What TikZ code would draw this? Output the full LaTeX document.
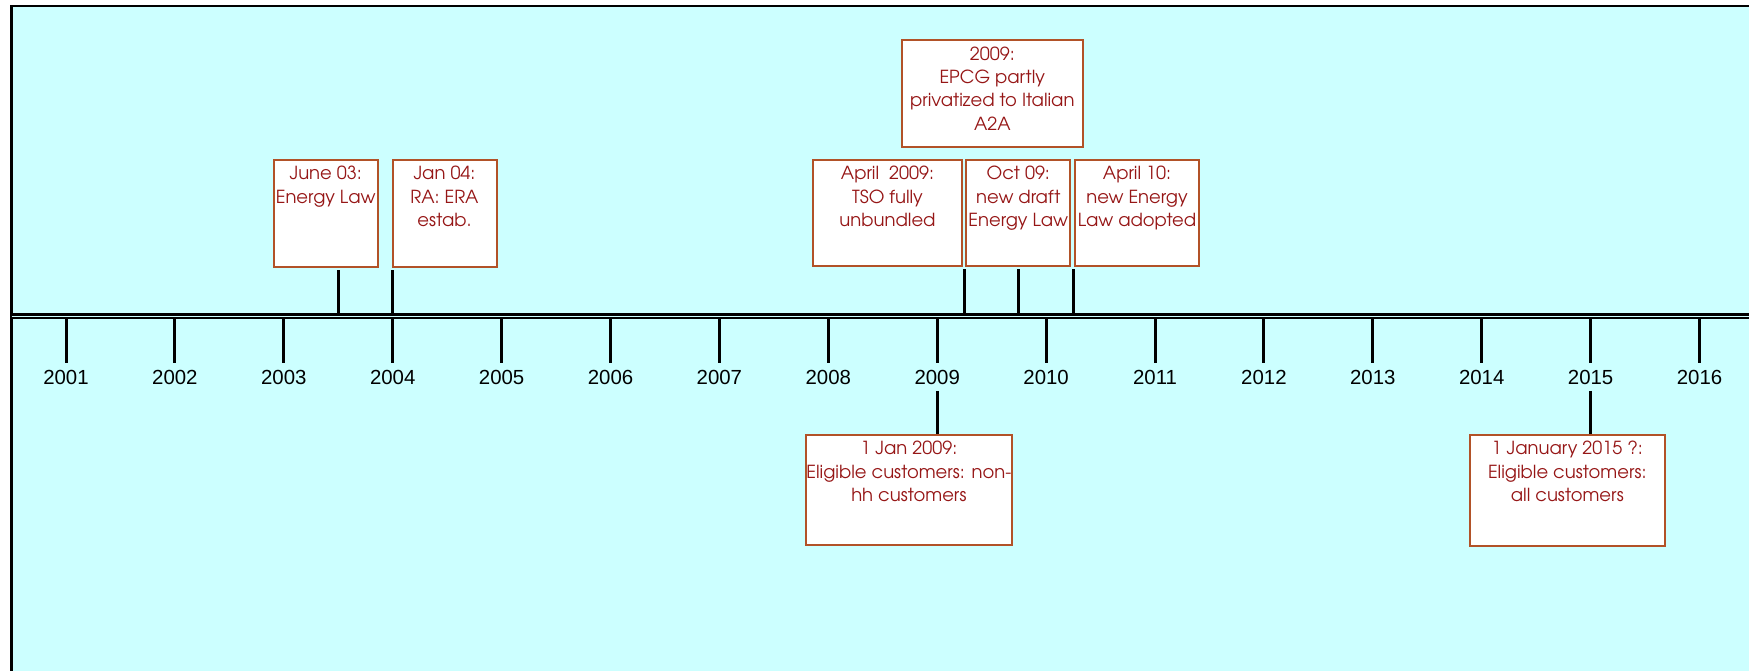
\documentclass[tikz,border=0pt]{standalone}
\usepackage{fontspec}
\setsansfont{Liberation Sans}
\newfontfamily\adventor{texgyreadventor-regular.otf}
\usepackage{tikz}
\definecolor{cyanbg}{RGB}{204,255,255}
\definecolor{evborder}{RGB}{178,82,40}
\definecolor{evtext}{RGB}{150,22,22}
\newcommand{\evfont}{\adventor\fontsize{9}{11.65}\selectfont}
\newcommand{\evtxt}[3]{\parbox[c][#2][t]{#1}{\centering\vspace*{3.2pt}#3\par}}
\newcommand{\yrx}[1]{{828.3+(#1-2008)*108.9}}

\begin{document}
\begin{tikzpicture}[x=0.5pt, y=-0.5pt]
      \tikzset{event/.style={draw=evborder, line width=1pt, fill=white,
        inner sep=0pt, text=evtext, font=\evfont}}
      \tikzset{year/.style={inner sep=0pt,
        font=\sffamily\fontsize{10.2}{12}\selectfont}}
      \tikzset{tick/.style={line width=1.5pt}}

      \useasboundingbox (0,0) rectangle (1749,670);
      \clip (0,0) rectangle (1749,670);
      \fill[cyanbg] (11.5,6) rectangle (1770,690);
      \draw[line width=1.4pt] (11.5,690) -- (11.5,6) -- (1770,6);

      \coordinate (axl) at (11.5,316);
      \coordinate (axr) at (1770,316);
      \draw[line width=1.35pt, double=cyanbg, double distance=0.5pt] (axl) -- (axr);

      \foreach \y in {2001,...,2016}{
        \coordinate (a\y) at (\yrx{\y},319);
        \coordinate (b\y) at (\yrx{\y},363);
        \node[year] (yr\y) at (\yrx{\y},377.7) {\y};
        \draw[tick] (a\y) -- (b\y);
      }

      \node[event] (jun03) at (325.7,213.5) {\evtxt{52.2pt}{53.5pt}{June 03:\\Energy Law}};
      \node[event] (jan04) at (444.5,213.5) {\evtxt{52pt}{53.5pt}{Jan 04:\\RA: ERA\\estab.}};
      \node[event] (epcg) at (992.3,93.5) {\evtxt{90.6pt}{53.2pt}{2009:\\EPCG partly\\privatized to Italian\\A2A}};
      \node[event] (apr09) at (887.5,213.2) {\evtxt{74.8pt}{53.2pt}{April\ \ 2009:\\TSO fully\\unbundled}};
      \node[event] (oct09) at (1018.3,213.2) {\evtxt{52pt}{53.2pt}{Oct 09:\\new draft\\Energy Law}};
      \node[event] (apr10) at (1137,213.2) {\evtxt{62pt}{53.2pt}{April 10:\\new Energy\\Law adopted}};
      \node[event] (jan09) at (908.9,489.9) {\evtxt{103.2pt}{54.9pt}{1 Jan 2009:\\Eligible customers: non-\\hh customers}};
      \node[event] (jan15) at (1567.3,490.5) {\evtxt{97.3pt}{55.5pt}{1 January 2015 ?:\\Eligible customers:\\all customers}};

      \coordinate (s03) at (\yrx{2003.5},313);
      \coordinate (s04) at (\yrx{2004},313);
      \coordinate (s09a) at (\yrx{2009.25},313);
      \coordinate (s09b) at (\yrx{2009.75},313);
      \coordinate (s10) at (\yrx{2010.25},313);

      \draw[tick]
      (s03) to ([yshift=-1pt]s03 |- jun03.south)
      (s04) to ([yshift=-1pt]s04 |- jan04.south)
      (s09a) to ([yshift=-1pt]s09a |- apr09.south)
      (s09b) to ([yshift=-1pt]s09b |- oct09.south)
      (s10) to ([yshift=-1pt]s10 |- apr10.south)
      ([yshift=-2.8pt]yr2009.south) to (yr2009.south |- jan09.north)
      ([yshift=-2.8pt]yr2015.south) to (yr2015.south |- jan15.north);
\end{tikzpicture}
\end{document}
